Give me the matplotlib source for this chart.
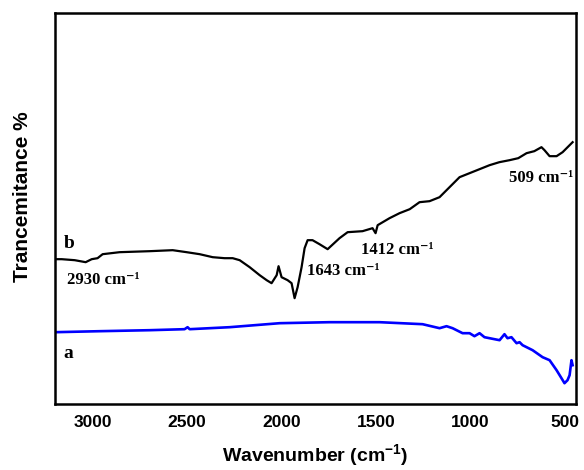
import matplotlib
matplotlib.use("Agg")
import matplotlib.pyplot as plt

plt.rcParams['mathtext.fontset'] = 'custom'
plt.rcParams['mathtext.rm'] = 'Liberation Sans:bold'
plt.rcParams['mathtext.bf'] = 'Liberation Sans:bold'

# curve b (black), wavenumber in cm-1 and transmittance (arbitrary units)
wn_b = [3200, 3164, 3095, 3037, 3005, 2974, 2947, 2857, 2698, 2576, 2502,
        2433, 2364, 2301, 2258, 2221, 2168, 2115, 2078, 2052, 2025, 2015,
        1999, 1967, 1946, 1930, 1914, 1893, 1877, 1861, 1835, 1798, 1755,
        1692, 1649, 1570, 1517, 1501, 1490, 1427, 1374, 1320, 1268, 1215,
        1162, 1109, 1056, 1003, 950, 897, 845, 791, 745, 701, 660, 622, 606,
        579, 542, 510, 457]
tr_b = [145, 145, 144, 142, 145, 146, 150, 152, 153, 154, 152,
        150, 147, 146, 146, 144, 137, 129, 124, 121, 129, 138,
        127, 124, 121, 106, 117, 137, 156, 164, 164, 160, 155,
        166, 172, 173, 176, 171, 179, 186, 191, 195, 202, 203,
        207, 217, 227, 231, 235, 239, 242, 244, 246, 251, 253, 257, 254,
        248, 248, 252, 262]

# curve a (blue)
wn_a = [3200, 2963, 2698, 2513, 2497, 2486, 2274, 2009, 1745, 1480, 1252,
        1162, 1125, 1093, 1040, 1003, 977, 950, 924, 844, 818, 802, 781,
        754, 738, 722, 669, 616, 579, 542, 516, 500, 484, 473, 463, 457]
tr_a = [72, 73, 74, 75, 77, 75, 77, 81, 82, 82, 80,
        76, 78, 76, 71, 71, 68, 71, 67, 64, 70, 66, 67,
        61, 62, 59, 54, 47, 44, 34, 26, 21, 24, 29, 44, 39]

xticks = [3000, 2500, 2000, 1500, 1000, 500]

peak_labels = ['2930', '1643', '1412', '509']
peak_pos = [(3135, 124), (1862, 133), (1580, 154), (452, 226)]
peak_ha = ['left', 'left', 'left', 'right']

fig = plt.figure(figsize=(5.84, 4.70), dpi=100)
ax = fig.add_axes([0.094, 0.140, 0.892, 0.832])

ax.plot(wn_b, tr_b, color='black', lw=1.6)
ax.plot(wn_a, tr_a, color='#0000ff', lw=1.9)

ax.set_xlim(3200, 440)
ax.set_ylim(0, 391)
ax.set_xticks(xticks)
ax.set_yticks([])
ax.tick_params(axis='x', length=0, pad=8)
for lab in ax.get_xticklabels():
    lab.set_fontfamily('Liberation Sans')
    lab.set_fontweight('bold')
    lab.set_fontsize(12.5)
for s in ax.spines.values():
    s.set_linewidth(1.8)

ax.set_xlabel(r'Wavenumber (cm$^{\mathbf{-1}}$)', fontsize=14,
              fontfamily='Liberation Sans', fontweight='bold', labelpad=9)
ax.set_ylabel('Trancemitance %', fontsize=15, fontfamily='Liberation Sans',
              fontweight='bold')
ax.yaxis.set_label_coords(-0.044, 0.53)

serif = ['Liberation Serif', 'DejaVu Serif']
for lab, (x, y), ha in zip(peak_labels, peak_pos, peak_ha):
    ax.text(x, y, lab + ' cm\u207b\u00b9', family=serif, fontweight='bold',
            fontsize=12, va='center', ha=ha)

ax.text(3125, 161, 'b', family=serif, fontweight='bold', fontsize=14,
        va='center', ha='center')
ax.text(3130, 51, 'a', family=serif, fontweight='bold', fontsize=14,
        va='center', ha='center')

fig.savefig('out.png', dpi=100)
